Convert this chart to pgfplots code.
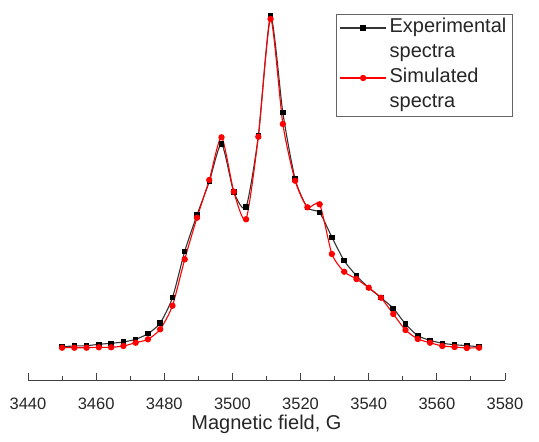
\documentclass[border=0pt]{standalone}
\usepackage{pgfplots}
\pgfplotsset{compat=1.18}
\usepackage{fontspec}
\setmainfont{Liberation Sans}
\begin{document}
\begin{tikzpicture}
\begin{axis}[
  scale only axis,
  width=477pt, height=378pt,
  xmin=3440, xmax=3580, ymin=0, ymax=378,
  axis x line*=bottom, axis y line=none,
  axis line style={-, black!75, line width=0.9pt},
  xtick={3440,3460,...,3580},
  minor x tick num=1,
  tick align=inside,
  major tick length=7pt, minor tick length=4pt,
  every tick/.style={black!75, line width=0.9pt},
  xticklabel style={font=\fontsize{16.5}{18}\selectfont, text=black!85, yshift=-14pt},
  /pgf/number format/assume math mode=true,
  /pgf/number format/1000 sep={},
  xlabel={Magnetic field, G},
  xlabel style={font=\fontsize{20}{22}\selectfont, text=black!85, at={(axis description cs:0.5,0)}, anchor=base, yshift=-50pt},
  legend style={at={(rel axis cs:0.646,0.968)}, anchor=north west, draw=black!60, line width=0.8pt,
    font=\fontsize{20}{24}\selectfont, text=black!85, inner xsep=3pt, inner ysep=1pt,
    nodes={text height=15pt, text depth=5pt, inner ysep=2.5pt, inner xsep=3pt}, row sep=0pt},
  legend cell align=left,
  legend image code/.code={\draw[mark repeat=2, mark phase=2, line width=1.1pt] plot coordinates {(0pt,0pt) (23pt,0pt) (46pt,0pt)};},
  clip=false,
]
\addplot[black!80, line width=1.1pt, smooth, tension=0.4, mark=square*, mark size=2.2pt, mark options={black, solid}] coordinates {
(3450.0,33.3) (3453.6,34) (3457.2,34.3) (3460.8,35.7) (3464.4,36.7) (3468.0,38)
(3471.6,40.7) (3475.2,46.3) (3478.8,57) (3482.4,82.3) (3486.0,128.7) (3489.6,165)
(3493.2,198.3) (3496.8,236) (3500.4,188) (3504.0,173) (3507.6,244) (3511.2,364)
(3514.8,267.3) (3518.4,201) (3522.0,172.5) (3525.6,167.3) (3529.2,142.7) (3532.8,119.3)
(3536.4,104.3) (3540.0,92.3) (3543.6,82.3) (3547.2,71.7) (3550.8,56) (3554.4,44.3)
(3558.0,39.7) (3561.6,36.7) (3565.2,35.3) (3568.8,34.3) (3572.4,33.3)
};
\addlegendentry{Experimental}
\addlegendimage{empty legend}
\addlegendentry{spectra}
\addplot[red, line width=1.1pt, smooth, tension=0.4, mark=*, mark size=2.6pt, mark options={red, solid}] coordinates {
(3450.0,32.3) (3453.6,32.3) (3457.2,32.3) (3460.8,32.7) (3464.4,32.7) (3468.0,34)
(3471.6,37.3) (3475.2,40.7) (3478.8,50.7) (3482.4,74.3) (3486.0,120.7) (3489.6,162.3)
(3493.2,200) (3496.8,242.7) (3500.4,188.3) (3504.0,160.7) (3507.6,243.3) (3511.2,361)
(3514.8,256) (3518.4,199.3) (3522.0,172.7) (3525.6,175.7) (3529.2,126) (3532.8,108.3)
(3536.4,101) (3540.0,92.3) (3543.6,82.3) (3547.2,66) (3550.8,50) (3554.4,41)
(3558.0,37.3) (3561.6,34) (3565.2,33) (3568.8,32) (3572.4,32.3)
};
\addlegendentry{Simulated}
\addlegendimage{empty legend}
\addlegendentry{spectra}
\end{axis}
\pgfresetboundingbox
\path (-28pt,-62pt) rectangle (511pt,380pt);
\end{tikzpicture}
\end{document}
